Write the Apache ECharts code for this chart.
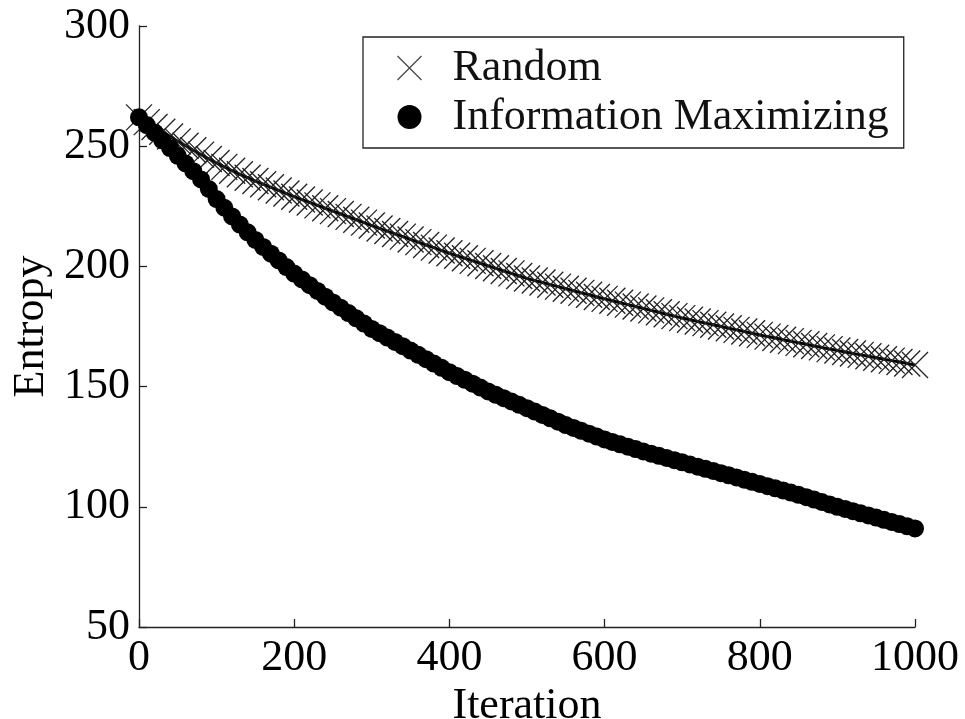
<!DOCTYPE html>
<html>
<head>
<meta charset="utf-8">
<script src="https://cdn.jsdelivr.net/npm/echarts@6/dist/echarts.min.js"></script>
<style>
html,body{margin:0;padding:0;background:#fff;}
#chart{width:965px;height:719px;}
</style>
</head>
<body>
<div id="chart"></div>
<script>
// Iteration (x) positions of the markers
const iterations = [0,10,20,30,40,50,60,70,80,90,100,110,120,130,140,150,160,170,180,190,200,210,220,230,240,250,260,270,280,290,300,310,320,330,340,350,360,370,380,390,400,410,420,430,440,450,460,470,480,490,500,510,520,530,540,550,560,570,580,590,600,610,620,630,640,650,660,670,680,690,700,710,720,730,740,750,760,770,780,790,800,810,820,830,840,850,860,870,880,890,900,910,920,930,940,950,960,970,980,990,1000];

// Entropy, "Random" strategy
const randomEntropy = [262,260,258,256,254,252,250.2,248.3,246.5,244.7,243,241.4,239.8,238.3,236.9,235.5,234.2,232.9,231.6,230.3,229,227.8,226.6,225.4,224.2,223,221.8,220.6,219.4,218.2,217,215.8,214.7,213.5,212.4,211.2,210.1,208.9,207.8,206.6,205.5,204.4,203.4,202.3,201.3,200.2,199.2,198.1,197.1,196,195,194.1,193.3,192.4,191.6,190.7,189.9,189,188.2,187.3,186.5,185.7,184.9,184.1,183.3,182.5,181.7,180.9,180.1,179.3,178.5,177.8,177.1,176.4,175.7,175,174.3,173.6,172.9,172.2,171.5,170.8,170.2,169.5,168.9,168.2,167.6,166.9,166.3,165.6,165,164.4,163.8,163.2,162.6,162,161.4,160.8,160.2,159.6,159];

// Entropy, "Information Maximizing" strategy
const infoMaxEntropy = [262,258.8,255.6,252.4,249.2,246,242.8,239.6,236.2,232.2,228,224.4,220.8,217.4,214.2,211,208.1,205.3,202.5,199.7,197,194.6,192.2,189.8,187.4,185,182.8,180.6,178.4,176.2,174,172.2,170.4,168.6,166.8,165,163.2,161.4,159.6,157.8,156,154.4,152.8,151.2,149.6,148,146.6,145.2,143.8,142.4,141,139.6,138.2,136.8,135.4,134,132.8,131.6,130.4,129.2,128,127,126,125,124,123,122.1,121.2,120.3,119.4,118.5,117.6,116.7,115.8,114.9,114,113.1,112.2,111.3,110.4,109.5,108.6,107.7,106.8,105.9,105,104,103,102,101,100,99.1,98.2,97.3,96.4,95.5,94.6,93.7,92.8,91.9,91];

const seriesNames = ['Random', 'Information Maximizing'];
const xTicks = {min: 0, max: 1000, step: 200};
const yTicks = {min: 50, max: 300, step: 50};
const xAxisTitle = 'Iteration';
const yAxisTitle = 'Entropy';

const FONT = "'Liberation Serif', 'DejaVu Serif', serif";
const xSym = 'path://M0,0L10,10M10,0L0,10';

const chart = echarts.init(document.getElementById('chart'), null, {renderer: 'canvas'});
chart.setOption({
  animation: false,
  backgroundColor: '#fff',
  grid: {left: 139, right: 50, top: 26, bottom: 92, containLabel: false, outerBoundsMode: 'none'},
  legend: {
    orient: 'vertical',
    left: 363,
    top: 37,
    padding: [9, 15, 9, 32],
    itemGap: 5,
    itemWidth: 76,
    itemHeight: 24,
    borderColor: '#222',
    borderWidth: 1.3,
    borderRadius: 0,
    backgroundColor: '#fff',
    textStyle: {fontFamily: FONT, fontSize: 44, color: '#111'},
    data: [
      {name: seriesNames[0], icon: xSym, itemStyle: {color: 'none', borderColor: '#444', borderWidth: 1.2}},
      {name: seriesNames[1], icon: 'circle', itemStyle: {color: '#000', borderWidth: 0}}
    ]
  },
  xAxis: {
    type: 'value',
    min: xTicks.min, max: xTicks.max, interval: xTicks.step,
    name: xAxisTitle,
    nameLocation: 'middle',
    nameGap: 47,
    nameTextStyle: {fontFamily: FONT, fontSize: 44, color: '#000'},
    axisLine: {show: true, onZero: false, lineStyle: {color: '#222', width: 1.3}},
    axisTick: {show: true, inside: true, length: 8, lineStyle: {color: '#222', width: 1.3}},
    axisLabel: {fontFamily: FONT, fontSize: 44, color: '#000', margin: 9, formatter: v => String(v)},
    splitLine: {show: false}
  },
  yAxis: {
    type: 'value',
    min: yTicks.min, max: yTicks.max, interval: yTicks.step,
    name: yAxisTitle,
    nameLocation: 'middle',
    nameGap: 82,
    nameRotate: 90,
    nameTextStyle: {fontFamily: FONT, fontSize: 44, color: '#000'},
    axisLine: {show: true, onZero: false, lineStyle: {color: '#222', width: 1.3}},
    axisTick: {show: true, inside: true, length: 8, lineStyle: {color: '#222', width: 1.3}},
    axisLabel: {fontFamily: FONT, fontSize: 44, color: '#000', margin: 9, formatter: v => String(v)},
    splitLine: {show: false}
  },
  series: [
    {
      name: seriesNames[0],
      type: 'line',
      data: iterations.map((x, i) => [x, randomEntropy[i]]),
      symbol: xSym,
      symbolSize: 26,
      showAllSymbol: true,
      itemStyle: {color: 'none', borderColor: '#222', borderWidth: 1.3},
      lineStyle: {color: '#000', width: 3},
      z: 2
    },
    {
      name: seriesNames[1],
      type: 'line',
      data: iterations.map((x, i) => [x, infoMaxEntropy[i]]),
      symbol: 'circle',
      symbolSize: 18,
      showAllSymbol: true,
      itemStyle: {color: '#000', borderWidth: 0},
      lineStyle: {color: '#000', width: 2},
      z: 3
    }
  ]
});
</script>
</body>
</html>
